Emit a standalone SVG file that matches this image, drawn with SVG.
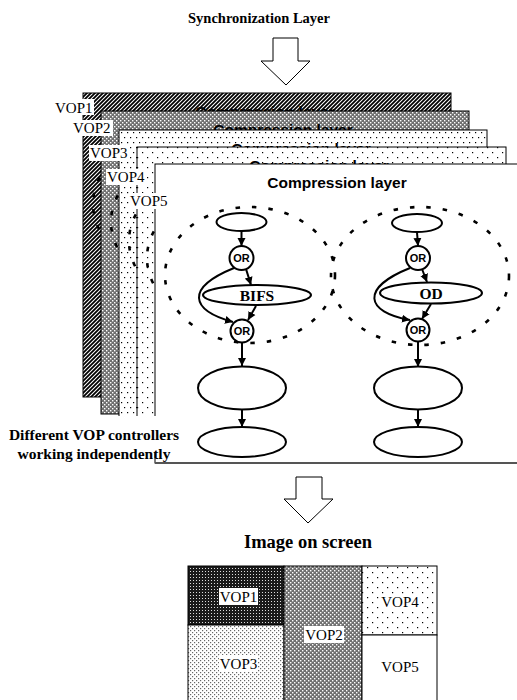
<svg xmlns="http://www.w3.org/2000/svg" width="517" height="700" viewBox="0 0 517 700">
<style>
.ser{font-family:"Liberation Serif","Times New Roman",serif}
.bs{font-family:"Liberation Serif","Times New Roman",serif;font-weight:bold}
.sans{font-family:"Liberation Sans",Arial,sans-serif;font-weight:bold}
.lbl{font-family:"Liberation Serif","Times New Roman",serif;font-size:15px}
.layer{stroke:#000;stroke-width:1}
.dash{fill:none;stroke:#000;stroke-width:2.6;stroke-dasharray:4.5 12}
.nd{fill:#fff;stroke:#000;stroke-width:2}
.cn{fill:none;stroke:#000;stroke-width:2;marker-end:url(#ah)}
.hollow{fill:#fff;stroke:#000;stroke-width:1}
</style>
<defs>
<marker id="ah" markerUnits="userSpaceOnUse" markerWidth="9" markerHeight="9" refX="8" refY="4.5" orient="auto"><path d="M0,0.5 L8,4.5 L0,8.5 z" fill="#000"/></marker>
<pattern id="hatch" width="4" height="4" patternUnits="userSpaceOnUse"><rect width="4" height="4" fill="#fff"/><path d="M-1,1 L1,-1 M0,4 L4,0 M3,5 L5,3" stroke="#000" stroke-width="1.8"/></pattern>
<pattern id="gray" width="4" height="4" patternUnits="userSpaceOnUse"><rect width="4" height="4" fill="#707070"/><rect x="0" y="0" width="1.4" height="1.4" fill="#fff"/><rect x="2" y="2" width="1.4" height="1.4" fill="#fff"/></pattern>
<pattern id="dots3" width="6" height="10" patternUnits="userSpaceOnUse"><rect width="6" height="10" fill="#fff"/><rect x="1" y="2" width="1.2" height="1.2" fill="#000"/><rect x="4" y="7" width="1.2" height="1.2" fill="#000"/></pattern>
<pattern id="dots4" width="10" height="10" patternUnits="userSpaceOnUse"><rect width="10" height="10" fill="#fff"/><rect x="2" y="2" width="1.2" height="1.2" fill="#000"/><rect x="7" y="7" width="1.2" height="1.2" fill="#000"/></pattern>
<pattern id="dark" width="3" height="3" patternUnits="userSpaceOnUse"><rect width="3" height="3" fill="#1a1a1a"/><rect x="1" y="1" width="1" height="1" fill="#ddd"/></pattern>
<pattern id="light" width="4" height="4" patternUnits="userSpaceOnUse"><rect width="4" height="4" fill="#fff"/><rect x="0" y="0" width="1.2" height="1.2" fill="#666"/><rect x="2" y="2" width="1.2" height="1.2" fill="#666"/></pattern>
</defs>

<text class="bs" x="259" y="23" font-size="14.5" text-anchor="middle">Synchronization Layer</text>
<polygon id="arrow-top" class="hollow" points="273,38 298,38 298,61 310,61 286,85 261,61 273,61"/>

<g id="layer-vop1">
<rect class="layer" x="83" y="93" width="368" height="304" fill="url(#hatch)"/>
<text class="sans" x="265" y="117" font-size="15.5" text-anchor="middle">Compression layer</text>
<ellipse class="dash" cx="178" cy="204" rx="85" ry="68"/>
</g>
<g id="layer-vop2">
<rect class="layer" x="101" y="111" width="368" height="303" fill="url(#gray)"/>
<text class="sans" x="283" y="135" font-size="15.5" text-anchor="middle">Compression layer</text>
<ellipse class="dash" cx="196" cy="222" rx="85" ry="68"/>
</g>
<g id="layer-vop3">
<rect class="layer" x="119" y="130" width="368" height="300" fill="url(#dots3)"/>
<text class="sans" x="301" y="154" font-size="15.5" text-anchor="middle">Compression layer</text>
<ellipse class="dash" cx="214" cy="241" rx="85" ry="68"/>
</g>
<g id="layer-vop4">
<rect class="layer" x="137" y="147" width="369" height="293" fill="url(#dots4)"/>
<text class="sans" x="319" y="171" font-size="15.5" text-anchor="middle">Compression layer</text>
<ellipse class="dash" cx="232" cy="258" rx="85" ry="68"/>
</g>
<g id="layer-vop5">
<rect x="155" y="164" width="380" height="299" fill="#fff" stroke="#000" stroke-width="1"/>
<line x1="155" y1="463" x2="517" y2="463" stroke="#555" stroke-width="2"/>
<text class="sans" x="337" y="188" font-size="15.5" text-anchor="middle">Compression layer</text>
</g>

<g id="bifs-group"><ellipse class="dash" cx="250" cy="275" rx="85" ry="68"/></g>
<g id="od-group"><ellipse class="dash" cx="420" cy="276" rx="89" ry="69"/></g>

<g id="connectors">
<line class="cn" x1="241.5" y1="231" x2="241.5" y2="246"/>
<line class="cn" x1="246" y1="269" x2="251" y2="285"/>
<path class="cn" d="M234,268 C185,288 190,310 233,322"/>
<line class="cn" x1="256" y1="306" x2="248" y2="320"/>
<line class="cn" x1="242" y1="342" x2="242" y2="366"/>
<line class="cn" x1="242" y1="409" x2="242" y2="427"/>
<line class="cn" x1="417" y1="232" x2="418" y2="246"/>
<line class="cn" x1="422" y1="269" x2="427" y2="282"/>
<path class="cn" d="M410,268 C360,288 365,312 410,320"/>
<line class="cn" x1="431" y1="304" x2="422" y2="319"/>
<line class="cn" x1="418" y1="341" x2="418" y2="367"/>
<line class="cn" x1="418" y1="410" x2="418" y2="427"/>
</g>

<g id="l-top"><ellipse class="nd" cx="241.5" cy="222" rx="25" ry="9"/></g>
<g id="l-or1"><circle class="nd" cx="241.5" cy="258" r="12"/><text class="sans" x="241.5" y="262" font-size="11" text-anchor="middle">OR</text></g>
<g id="l-bifs"><ellipse class="nd" cx="257" cy="295" rx="54" ry="10"/><text class="bs" x="257" y="301" font-size="15.5" text-anchor="middle">BIFS</text></g>
<g id="l-or2"><circle class="nd" cx="242" cy="331" r="11.5"/><text class="sans" x="242" y="335" font-size="11" text-anchor="middle">OR</text></g>
<g id="l-big"><ellipse class="nd" cx="242" cy="388" rx="44" ry="21.5"/></g>
<g id="l-bottom"><ellipse class="nd" cx="242" cy="442" rx="44" ry="15"/></g>

<g id="r-top"><ellipse class="nd" cx="417" cy="223" rx="25" ry="9"/></g>
<g id="r-or1"><circle class="nd" cx="418" cy="258" r="12"/><text class="sans" x="418" y="262" font-size="11" text-anchor="middle">OR</text></g>
<g id="r-od"><ellipse class="nd" cx="431" cy="293" rx="51" ry="10.5"/><text class="bs" x="431" y="299" font-size="15.5" text-anchor="middle">OD</text></g>
<g id="r-or2"><circle class="nd" cx="418" cy="330" r="11.5"/><text class="sans" x="418" y="334" font-size="11" text-anchor="middle">OR</text></g>
<g id="r-big"><ellipse class="nd" cx="418" cy="388" rx="44" ry="21.5"/></g>
<g id="r-bottom"><ellipse class="nd" cx="418" cy="442" rx="44" ry="15"/></g>

<g id="vop-labels">
<rect x="54" y="99" width="40" height="16" fill="#fff"/><text class="lbl" x="55" y="113">VOP1</text>
<rect x="72" y="120" width="41" height="16" fill="#fff"/><text class="lbl" x="73" y="133">VOP2</text>
<rect x="89" y="145" width="41" height="16" fill="#fff"/><text class="lbl" x="90" y="158">VOP3</text>
<rect x="106" y="169" width="41" height="16" fill="#fff"/><text class="lbl" x="107" y="182">VOP4</text>
<rect x="129" y="193" width="40" height="16" fill="#fff"/><text class="lbl" x="130" y="206">VOP5</text>
</g>

<g id="caption">
<rect x="5" y="416" width="180" height="36" fill="#fff"/>
<text class="bs" x="94" y="440" font-size="15.5" text-anchor="middle">Different VOP controllers</text>
<text class="bs" x="94" y="459" font-size="15.5" text-anchor="middle">working independently</text>
</g>

<polygon id="arrow-bottom" class="hollow" points="296,477 322,477 322,499 333,499 308,523 284,499 296,499"/>
<text class="bs" x="308" y="548" font-size="18.5" text-anchor="middle">Image on screen</text>

<g id="screen">
<rect x="188" y="566" width="96" height="59" fill="url(#dark)" stroke="#000" stroke-width="1"/>
<rect x="188" y="625" width="96" height="80" fill="url(#light)" stroke="#000" stroke-width="1"/>
<rect x="284" y="566" width="78" height="140" fill="url(#gray)" stroke="#000" stroke-width="1"/>
<rect x="362" y="566" width="75" height="69" fill="url(#dots4)" stroke="#000" stroke-width="1"/>
<rect x="362" y="635" width="75" height="70" fill="#fff" stroke="#000" stroke-width="1"/>
<rect x="219" y="588" width="39" height="17" fill="#fff"/><text class="lbl" x="238.5" y="602" text-anchor="middle">VOP1</text>
<rect x="304" y="626" width="40" height="17" fill="#fff"/><text class="lbl" x="324" y="640" text-anchor="middle">VOP2</text>
<rect x="219" y="655" width="39" height="17" fill="#fff"/><text class="lbl" x="238.5" y="669" text-anchor="middle">VOP3</text>
<rect x="381" y="594" width="39" height="16" fill="#fff"/><text class="lbl" x="400" y="607" text-anchor="middle">VOP4</text>
<text class="lbl" x="400" y="672" text-anchor="middle">VOP5</text>
</g>
</svg>
